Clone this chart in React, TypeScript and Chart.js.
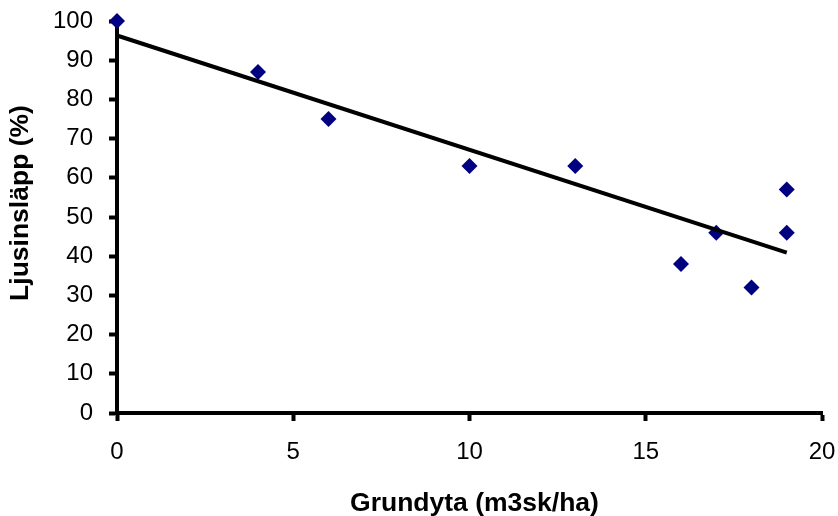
import React, { useEffect, useRef } from "react";
import { Chart, registerables } from "chart.js";

Chart.register(...registerables);

const grundyta = [0, 4, 6, 10, 13, 16, 17, 18, 19, 19];
const ljusinslapp = [100, 87, 75, 63, 63, 38, 46, 32, 57, 46];
const trendX = [0, 19];
const trendY = [96.3, 40.9];
const xTitle = "Grundyta (m3sk/ha)";
const yTitle = "Ljusinsläpp (%)";

const FONT = "'Liberation Sans', Arial, sans-serif";

const titlePlugin = {
  id: "axisTitles",
  afterDraw(chart: any) {
    const { ctx, chartArea } = chart;
    ctx.save();
    ctx.fillStyle = "#000";
    ctx.font = `bold 26.5px ${FONT}`;
    ctx.textAlign = "center";
    ctx.textBaseline = "alphabetic";
    ctx.fillText(xTitle, (chartArea.left + chartArea.right) / 2 + 5, chart.height - 5);
    ctx.translate(28, (chartArea.top + chartArea.bottom) / 2 - 14);
    ctx.rotate(-Math.PI / 2);
    ctx.fillText(yTitle, 0, 0);
    ctx.restore();
  },
};

const noPad = (s: any) => {
  s.paddingTop = 0;
  s.paddingBottom = 0;
  s.paddingLeft = 0;
  s.paddingRight = 0;
};

export default function App() {
  const ref = useRef<HTMLCanvasElement | null>(null);
  useEffect(() => {
    if (!ref.current) return;
    const chart = new Chart(ref.current, {
      type: "scatter",
      data: {
        datasets: [
          {
            type: "line",
            data: trendX.map((x, i) => ({ x, y: trendY[i] })),
            borderColor: "#000000",
            borderWidth: 4,
            pointRadius: 0,
            fill: false,
            clip: false,
            order: 0,
          },
          {
            type: "scatter",
            data: grundyta.map((x, i) => ({ x, y: ljusinslapp[i] })),
            pointStyle: "rectRot",
            pointRadius: 8,
            backgroundColor: "#000080",
            borderColor: "#000080",
            borderWidth: 0,
            clip: false,
            order: 1,
          },
        ],
      },
      options: {
        responsive: false,
        animation: false,
        layout: { padding: { top: 21, right: 16, left: 0, bottom: 0 } },
        plugins: { legend: { display: false }, tooltip: { enabled: false } },
        scales: {
          x: {
            type: "linear",
            min: 0,
            max: 20,
            afterFit: (s: any) => {
              s.height = 103;
              noPad(s);
            },
            ticks: {
              stepSize: 5,
              color: "#000",
              font: { family: FONT, size: 24 },
              padding: 17,
            },
            grid: {
              drawOnChartArea: false,
              drawTicks: true,
              tickLength: 8,
              tickWidth: 4,
              tickColor: "#000",
            },
            border: { color: "#000", width: 4 },
          },
          y: {
            type: "linear",
            min: 0,
            max: 100,
            afterFit: (s: any) => {
              s.width = 117;
              noPad(s);
            },
            ticks: {
              stepSize: 10,
              color: "#000",
              font: { family: FONT, size: 24 },
              padding: 16,
            },
            grid: {
              drawOnChartArea: false,
              drawTicks: true,
              tickLength: 8,
              tickWidth: 4,
              tickColor: "#000",
            },
            border: { color: "#000", width: 4 },
          },
        },
      },
      plugins: [titlePlugin],
    } as any);
    return () => chart.destroy();
  }, []);
  return (
    <div style={{ position: "absolute", left: 0, top: 0, width: 838, height: 516, background: "#fff" }}>
      <canvas ref={ref} width={838} height={516} />
    </div>
  );
}
